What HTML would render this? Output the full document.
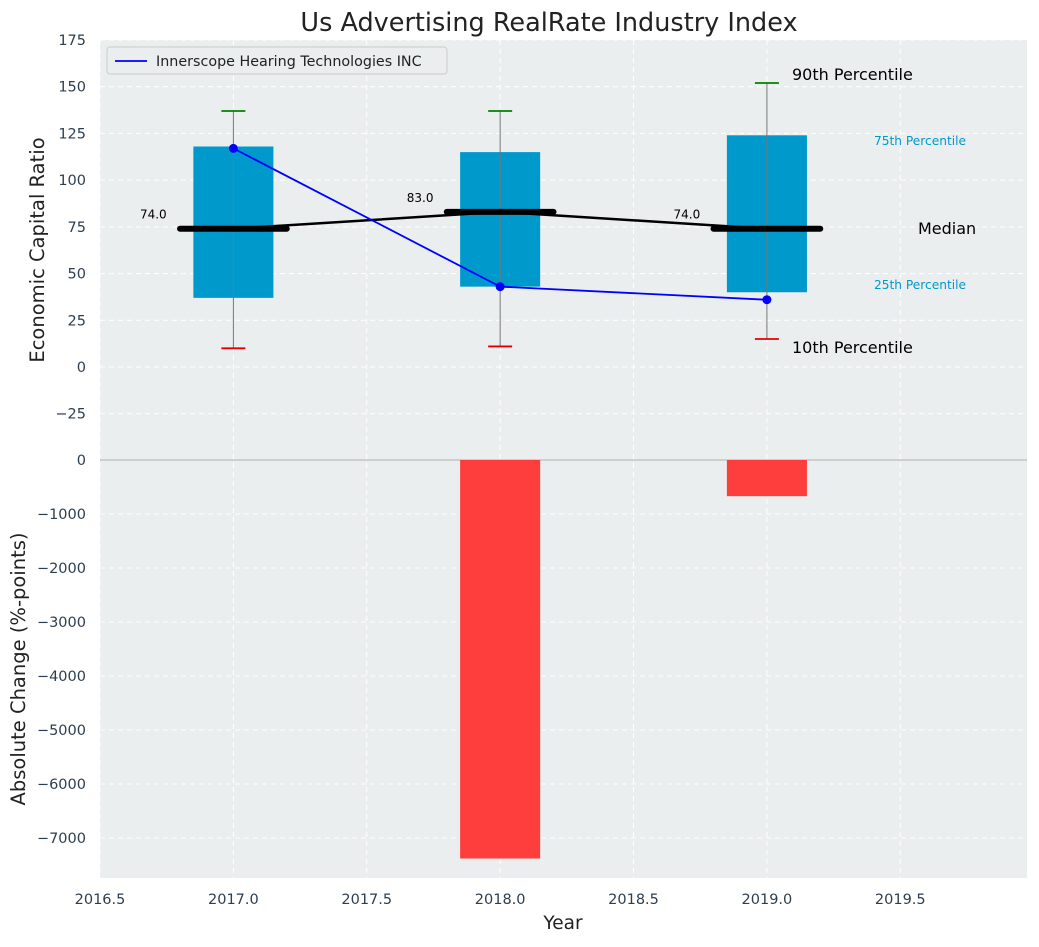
<!DOCTYPE html>
<html><head><meta charset="utf-8"><style>
body{margin:0;background:#fff;font-family:"Liberation Sans","DejaVu Sans",sans-serif}
text{font-family:"DejaVu Sans","Liberation Sans",sans-serif}
</style></head><body>
<svg id="c" width="1039" height="942"></svg>
<script>
const years=[2017,2018,2019];
const p10=[10,11,15];
const q1=[37,43,40];
const med=[74,83,74];
const q3=[118,115,124];
const p90=[137,137,152];
const company=[117,43,36];
const absChange=[0,-7380,-670];
const yTicksTop=[-25,0,25,50,75,100,125,150,175];
const yTicksBot=[-7000,-6000,-5000,-4000,-3000,-2000,-1000,0];
const xTicks=[2016.5,2017,2017.5,2018,2018.5,2019,2019.5];

const L=100,R=1027;
const X=v=>L+(v-2016.5)*(R-L)/(2019.975-2016.5);
const Yt=v=>367-v*1.8686;
const Yb=v=>460-v*0.054;
const svg=document.getElementById('c');
const NS='http://www.w3.org/2000/svg';
function mk(tag,attrs,name,txt){const e=document.createElementNS(NS,tag);for(const k in attrs)e.setAttribute(k,attrs[k]);


if(txt!==undefined)e.textContent=txt;svg.appendChild(e);return e;}
mk('rect',{x:L,y:40,width:R-L,height:420,fill:'#eaeeee'},'top-plot-area');
mk('rect',{x:L,y:460,width:R-L,height:418,fill:'#eaeeee'},'bottom-plot-area');
xTicks.forEach(t=>{mk('line',{x1:X(t),x2:X(t),y1:40,y2:878,stroke:'#fff','stroke-dasharray':'5,4','stroke-width':1},'x-grid-line');
mk('text',{x:X(t),y:904,'text-anchor':'middle','font-size':14.5,fill:'#2d3e50'},'x-tick-label',t.toFixed(1));});
yTicksTop.forEach(t=>{mk('line',{x1:L,x2:R,y1:Yt(t),y2:Yt(t),stroke:'#fff','stroke-dasharray':'5,4'},'y-grid-line-top');
mk('text',{x:L-14,y:Yt(t)+5,'text-anchor':'end','font-size':14.5,fill:'#2d3e50'},'y-tick-label-top',t<0?'\u2212'+(-t):t);});
yTicksBot.forEach(t=>{mk('line',{x1:L,x2:R,y1:Yb(t),y2:Yb(t),stroke:'#fff','stroke-dasharray':'5,4'},'y-grid-line-bottom');
mk('text',{x:L-14,y:Yb(t)+5,'text-anchor':'end','font-size':14.5,fill:'#2d3e50'},'y-tick-label-bottom',t<0?'\u2212'+(-t):t);});
mk('line',{x1:L,x2:R,y1:460,y2:460,stroke:'#b0b0b0'},'axes-divider');
years.forEach((y,i)=>{
 mk('rect',{x:X(y-0.15),y:Yt(q3[i]),width:X(y+0.15)-X(y-0.15),height:Yt(q1[i])-Yt(q3[i]),fill:'#0099cc'},'iqr-box');
 mk('line',{x1:X(y),x2:X(y),y1:Yt(p90[i]),y2:Yt(p10[i]),stroke:'#777','stroke-width':1},'whisker');
 mk('line',{x1:X(y)-12,x2:X(y)+12,y1:Yt(p90[i]),y2:Yt(p90[i]),stroke:'#008000','stroke-width':1.8},'p90-cap');
 mk('line',{x1:X(y)-12,x2:X(y)+12,y1:Yt(p10[i]),y2:Yt(p10[i]),stroke:'#e00000','stroke-width':1.8},'p10-cap');
 mk('line',{x1:X(y-0.2),x2:X(y+0.2),y1:Yt(med[i]),y2:Yt(med[i]),stroke:'#000','stroke-width':6,'stroke-linecap':'round'},'median-bar');
 mk('text',{x:X(y-0.25),y:Yt(med[i])-10,'text-anchor':'end','font-size':12,fill:'#000'},'median-value-label',med[i].toFixed(1));
 if(absChange[i]!==0)mk('rect',{x:X(y-0.15),y:460,width:X(y+0.15)-X(y-0.15),height:Yb(absChange[i])-460,fill:'#ff3333',opacity:0.95},'abs-change-bar');
});
mk('polyline',{points:years.map((y,i)=>X(y)+','+Yt(med[i])).join(' '),fill:'none',stroke:'#000','stroke-width':2.5},'median-line');
mk('polyline',{points:years.map((y,i)=>X(y)+','+Yt(company[i])).join(' '),fill:'none',stroke:'blue','stroke-width':1.8},'company-line');
years.forEach((y,i)=>mk('circle',{cx:X(y),cy:Yt(company[i]),r:4.5,fill:'blue'},'company-point'));
mk('text',{x:792,y:80,'font-size':16,fill:'#000'},'p90-annotation','90th Percentile');
mk('text',{x:874,y:145,'font-size':12.2,fill:'#0099cc'},'p75-annotation','75th Percentile');
mk('text',{x:918,y:234,'font-size':16,fill:'#000'},'median-annotation','Median');
mk('text',{x:874,y:289,'font-size':12.2,fill:'#0099cc'},'p25-annotation','25th Percentile');
mk('text',{x:792,y:353,'font-size':16,fill:'#000'},'p10-annotation','10th Percentile');
mk('rect',{x:107,y:47,width:340,height:27,rx:3,fill:'#eaeeee',stroke:'#ccc'},'legend-box');
mk('line',{x1:115,x2:147,y1:61,y2:61,stroke:'blue','stroke-width':1.8},'legend-line');
mk('text',{x:156,y:66,'font-size':14.3,fill:'#222'},'legend-label','Innerscope Hearing Technologies INC');
mk('text',{x:549,y:31,'text-anchor':'middle','font-size':25.5,fill:'#222'},'chart-title','Us Advertising RealRate Industry Index');
mk('text',{x:563,y:929,'text-anchor':'middle','font-size':18.5,fill:'#222'},'x-axis-title','Year');
mk('text',{x:44,y:250,'text-anchor':'middle','font-size':19.5,fill:'#222',transform:'rotate(-90 44 250)'},'y-axis-title-top','Economic Capital Ratio');
mk('text',{x:25,y:669,'text-anchor':'middle','font-size':19.5,fill:'#222',transform:'rotate(-90 25 669)'},'y-axis-title-bottom','Absolute Change (%-points)');
</script></body></html>
